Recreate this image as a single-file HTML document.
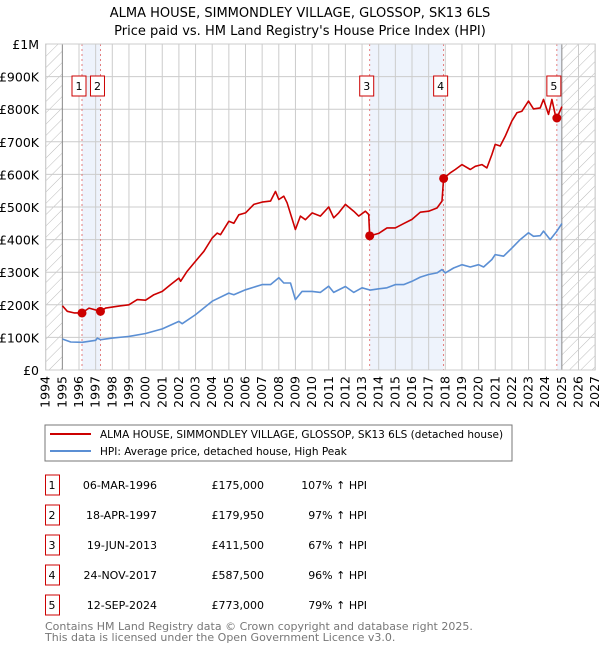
<!DOCTYPE html>
<html><head><meta charset="utf-8"><style>
body{margin:0;background:#fff;font-family:"Liberation Sans","DejaVu Sans",sans-serif;}
svg text{font-family:"DejaVu Sans","Liberation Sans",sans-serif;}
</style></head><body>
<svg id="c" width="600" height="650" xmlns="http://www.w3.org/2000/svg">
<defs><pattern id="h" width="8" height="8" patternUnits="userSpaceOnUse" patternTransform="rotate(45)"><line x1="0" y1="0" x2="0" y2="8" stroke="#bbb" stroke-width="1"/></pattern></defs>
<text x="300" y="17" text-anchor="middle" font-size="13" fill="#000">ALMA HOUSE, SIMMONDLEY VILLAGE, GLOSSOP, SK13 6LS</text>
<text x="300" y="35" text-anchor="middle" font-size="13" fill="#000">Price paid vs. HM Land Registry's House Price Index (HPI)</text>
<g id="plot"></g>
<rect x="45" y="425" width="467" height="36" fill="#fff" stroke="#777"/>
<line x1="50" y1="434" x2="91" y2="434" stroke="#cc0000" stroke-width="2"/>
<text x="100" y="438" font-size="10.5">ALMA HOUSE, SIMMONDLEY VILLAGE, GLOSSOP, SK13 6LS (detached house)</text>
<line x1="50" y1="451" x2="91" y2="451" stroke="#5b8fd4" stroke-width="2"/>
<text x="100" y="455" font-size="10.5">HPI: Average price, detached house, High Peak</text>
<g id="tbl" font-size="11"></g>
<text x="45" y="630" font-size="11" fill="#777">Contains HM Land Registry data © Crown copyright and database right 2025.</text>
<text x="45" y="641" font-size="11" fill="#777">This data is licensed under the Open Government Licence v3.0.</text>
</svg>
<script>
const redT=[1995.0,1995.3,1995.7,1996.18,1996.6,1997.29,1997.6,1998.5,1999.0,1999.5,2000.0,2000.5,2001.0,2001.5,2002.0,2002.1,2002.5,2003.0,2003.5,2004.0,2004.3,2004.5,2005.0,2005.3,2005.6,2006.0,2006.5,2007.0,2007.5,2007.8,2008.0,2008.3,2008.5,2009.0,2009.3,2009.6,2010.0,2010.5,2011.0,2011.3,2011.6,2012.0,2012.5,2012.8,2013.2,2013.4,2013.46,2014.0,2014.5,2015.0,2015.5,2016.0,2016.5,2017.0,2017.5,2017.8,2017.9,2018.3,2018.6,2019.0,2019.5,2019.8,2020.2,2020.5,2020.8,2021.0,2021.3,2021.6,2022.0,2022.3,2022.6,2023.0,2023.3,2023.7,2023.9,2024.2,2024.4,2024.6,2024.7,2025.0];
const redV=[197,180,175,175,190,180,190,197,200,216,214,231,241,262,282,272,303,334,364,405,420,415,456,450,476,482,508,515,518,548,523,533,513,431,472,461,482,472,500,467,482,508,487,472,487,477,411.5,419,436,436,449,462,484,487,497,518,587.5,605,615,630,615,625,630,620,661,692,687,717,764,789,794,825,801,804,830,784,830,784,773,808];
const hpiT=[1995.0,1995.5,1996.2,1997.0,1997.1,1997.3,1998.0,1999.0,2000.0,2001.0,2002.0,2002.2,2003.0,2004.0,2005.0,2005.3,2006.0,2007.0,2007.5,2008.0,2008.3,2008.7,2009.0,2009.4,2010.0,2010.5,2011.0,2011.3,2012.0,2012.5,2013.0,2013.5,2014.0,2014.5,2015.0,2015.5,2016.0,2016.5,2017.0,2017.5,2017.8,2018.0,2018.5,2019.0,2019.5,2020.0,2020.3,2020.8,2021.0,2021.5,2022.0,2022.5,2023.0,2023.3,2023.7,2023.9,2024.3,2024.7,2025.0];
const hpiV=[95,86,85,91,98,93,98,103,112,126,149,142,170,211,236,231,246,262,262,283,267,267,216,241,241,238,257,238,256,238,252,245,249,252,262,262,272,285,293,298,308,298,313,323,316,323,316,339,354,349,374,400,421,410,412,426,400,426,449];
const saleT=[1996.18,1997.29,2013.46,2017.9,2024.7];
const saleV=[175,179.95,411.5,587.5,773];
const saleDates=["06-MAR-1996","18-APR-1997","19-JUN-2013","24-NOV-2017","12-SEP-2024"];
const salePrices=["£175,000","£179,950","£411,500","£587,500","£773,000"];
const saleHpi=["107% ↑ HPI","97% ↑ HPI","67% ↑ HPI","96% ↑ HPI","79% ↑ HPI"];
const yTicks=[0,100,200,300,400,500,600,700,800,900,1000];
const yLabels=["£0","£100K","£200K","£300K","£400K","£500K","£600K","£700K","£800K","£900K","£1M"];
const years=[];for(let y=1994;y<=2027;y++)years.push(y);

const NS="http://www.w3.org/2000/svg";
const X=t=>45.7+16.65*(t-1994), Y=v=>370-v*0.326;
const g=document.getElementById('plot');
function mk(tag,a,p){const e=document.createElementNS(NS,tag);for(const k in a)e.setAttribute(k,a[k]);(p||g).appendChild(e);return e;}
// hatch
let e=mk('rect',{x:X(1994),y:Y(1000),width:X(1995)-X(1994),height:Y(0)-Y(1000),fill:'url(#h)'});


e=mk('rect',{x:X(2025),y:Y(1000),width:X(2027)-X(2025),height:Y(0)-Y(1000),fill:'url(#h)'});


// bands
[[0,1],[2,3],[4,-1]].forEach((p,i)=>{const a=saleT[p[0]],b=p[1]<0?2025:saleT[p[1]];
 const r=mk('rect',{x:X(a),y:Y(1000),width:X(b)-X(a),height:Y(0)-Y(1000),fill:'#eef3fc'});
 
 });
// grid
yTicks.forEach((v,i)=>{const l=mk('line',{x1:X(1994),x2:X(2027),y1:Y(v),y2:Y(v),stroke:'#ccc'});
 
 
 const t=mk('text',{x:39,y:Y(v)+5,'text-anchor':'end','font-size':'12.5'});t.textContent=yLabels[i];
 
 });
years.forEach(y=>{const col=(y==1995||y==2025)?'#888':'#ccc';
 const l=mk('line',{x1:X(y),x2:X(y),y1:Y(1000),y2:Y(0),stroke:col});
 
 
 const t=mk('text',{x:X(y)+4,y:376,'text-anchor':'end','font-size':'12.5',transform:`rotate(-90 ${X(y)+4} 376)`});t.textContent=y;
 
 });
// sale vlines + boxes
saleT.forEach((t,i)=>{const l=mk('line',{x1:X(t),x2:X(t),y1:Y(1000),y2:Y(0),stroke:'#e06060','stroke-dasharray':'2,3','stroke-width':0.8});
 
 
 const b=mk('rect',{x:X(t)-10,y:76,width:14,height:20,fill:'#fff',stroke:'#cc0000'});
 
 
 const tx=mk('text',{x:X(t)-3,y:90,'text-anchor':'middle','font-size':'11'});tx.textContent=i+1;
 
 });
function path(T,V,c,n){const d=T.map((t,i)=>(i?'L':'M')+X(t).toFixed(1)+','+Y(V[i]).toFixed(1)).join('');
 const p=mk('path',{d:d,fill:'none',stroke:c,'stroke-width':1.6,'stroke-linejoin':'round'});
 
 }
path(hpiT,hpiV,'#5b8fd4','hpi-line');
path(redT,redV,'#cc0000','property-price-line');
saleT.forEach((t,i)=>{const c=mk('circle',{cx:X(t),cy:Y(saleV[i]),r:4.5,fill:'#cc0000'});
 
 });
const ax=mk('rect',{x:X(1994),y:Y(1000),width:X(2027)-X(1994),height:Y(0)-Y(1000),fill:'none',stroke:'#ccc'});


// table
const tb=document.getElementById('tbl');
saleDates.forEach((d,i)=>{const cy=485+30*i;
 const b=mk('rect',{x:45.5,y:cy-10,width:14,height:20,fill:'#fff',stroke:'#cc0000'},tb);
 
 
 const cells=[[52,'middle',String(i+1),'table-row-number'],[157,'end',d,'table-date'],[264,'end',salePrices[i],'table-price'],[367,'end',saleHpi[i],'table-hpi-change']];
 cells.forEach(c=>{const t=mk('text',{x:c[0],y:cy+4,'text-anchor':c[1]},tb);t.textContent=c[2];
  
  });});
</script>
</body></html>
